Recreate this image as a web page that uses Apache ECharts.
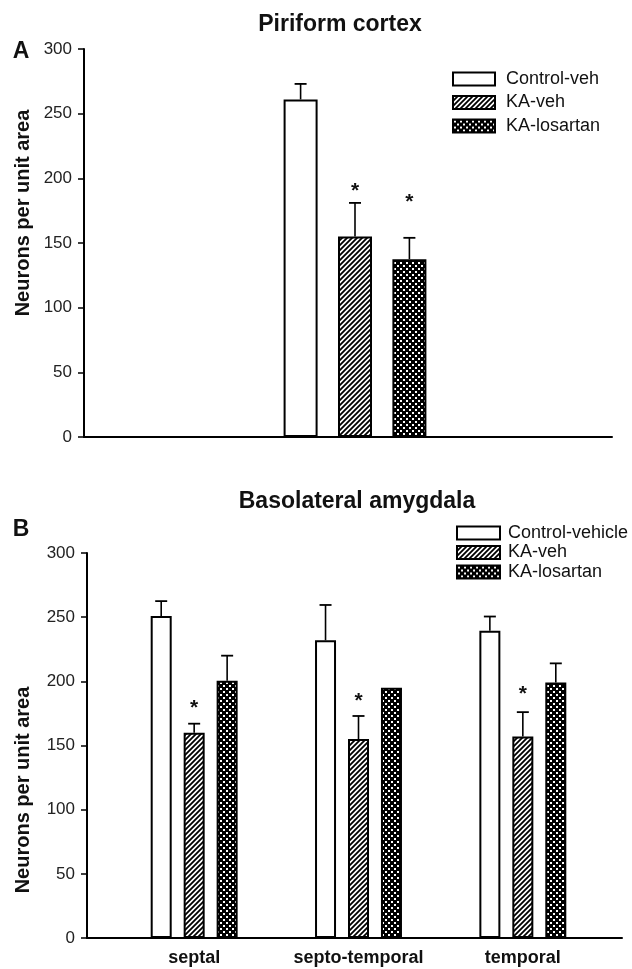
<!DOCTYPE html>
<html>
<head>
<meta charset="utf-8">
<script src="https://cdn.jsdelivr.net/npm/echarts@6/dist/echarts.min.js"></script>
<style>
  html, body { margin: 0; padding: 0; background: #fff; }
  #chart { width: 632px; height: 969px; }
</style>
</head>
<body>
<div id="chart"></div>
<script>
// panel A - piriform cortex
var groupNamesA = ['Control-veh', 'KA-veh', 'KA-losartan'];
var meansA = [261, 155, 137.5];
var errorsA = [12, 26, 16.5];
var starsA = [null, 194, 185.5];

// panel B - basolateral amygdala
var categoriesB = ['septal', 'septo-temporal', 'temporal'];
var groupNamesB = ['Control-vehicle', 'KA-veh', 'KA-losartan'];
var controlB = [251, 232, 239.5];
var controlErrB = [11.5, 27.5, 11];
var kaVehB = [160, 155, 157];
var kaVehErrB = [7, 18, 19];
var kaLosB = [200.5, 195, 199];
var kaLosErrB = [19.5, 0, 15];
var starsB = [183, 188.6, 194];

var yTicks = [0, 50, 100, 150, 200, 250, 300];

var font = 'Liberation Sans, Arial, Helvetica, sans-serif';

var makeHatch = function() {
  var c = document.createElement('canvas');
  c.width = 5; c.height = 5;
  var g = c.getContext('2d');
  g.fillStyle = '#fff';
  g.fillRect(0, 0, 5, 5);
  g.strokeStyle = '#000';
  g.lineWidth = 1.8;
  g.beginPath();
  g.moveTo(-1, 6); g.lineTo(6, -1);
  g.moveTo(-1, 1); g.lineTo(1, -1);
  g.moveTo(4, 6); g.lineTo(6, 4);
  g.stroke();
  return c;
};

var makeDots = function() {
  var c = document.createElement('canvas');
  c.width = 6; c.height = 6;
  var g = c.getContext('2d');
  g.fillStyle = '#000';
  g.fillRect(0, 0, 6, 6);
  g.fillStyle = '#fff';
  g.fillRect(1, 1, 2, 2);
  g.fillRect(4, 4, 2, 2);
  return c;
};

var fills = [
  '#fff',
  { image: makeHatch(), repeat: 'repeat' },
  { image: makeDots(), repeat: 'repeat' }
];

var barStyle = function(i) {
  return { color: fills[i], borderColor: '#000', borderWidth: 2 };
};

// error bars + asterisks, drawn at each bar's pixel offset
var errorRender = function(step) {
  return function(params, api) {
    var cat = api.value(0);
    var slot = api.value(1);
    var mean = api.value(2);
    var err = api.value(3);
    var star = api.value(4);
    var dx = (slot - 1) * step;
    var base = api.coord([cat, mean]);
    var top = api.coord([cat, mean + err]);
    var x = base[0] + dx;
    var kids = [];
    if (err > 0) {
      kids.push({ type: 'line', shape: { x1: x, y1: base[1], x2: x, y2: top[1] }, style: { stroke: '#000', lineWidth: 1.6 } });
      kids.push({ type: 'line', shape: { x1: x - 6, y1: top[1], x2: x + 6, y2: top[1] }, style: { stroke: '#000', lineWidth: 1.8 } });
    }
    if (!isNaN(star) && star > 0) {
      var sp = api.coord([cat, star]);
      kids.push({ type: 'text', style: { text: '*', x: x, y: sp[1] + 5, align: 'center', verticalAlign: 'middle', font: 'bold 21px ' + font, fill: '#111' } });
    }
    return { type: 'group', children: kids };
  };
};

var errDataA = [];
for (var i = 0; i < 3; i++) {
  errDataA.push([0, i, meansA[i], errorsA[i], starsA[i] == null ? '-' : starsA[i]]);
}
var errDataB = [];
var meansB = [controlB, kaVehB, kaLosB];
var errsB = [controlErrB, kaVehErrB, kaLosErrB];
for (var c = 0; c < 3; c++) {
  for (var s = 0; s < 3; s++) {
    errDataB.push([c, s, meansB[s][c], errsB[s][c], s == 1 ? starsB[c] : '-']);
  }
}

var yAxisShown = function(grid) {
  return {
    type: 'value', gridIndex: grid, min: 0, max: 300, interval: 50,
    axisLine: { show: true, lineStyle: { color: '#000', width: 2 } },
    axisTick: { show: true, length: 6, lineStyle: { color: '#000', width: 1.5 } },
    axisLabel: { margin: 12, color: '#222', fontSize: 17, fontFamily: font,
      formatter: function(v) { return yTicks.indexOf(v) >= 0 ? String(v) : ''; } },
    splitLine: { show: false }
  };
};
var yAxisHidden = function(grid) {
  return { type: 'value', gridIndex: grid, min: 0, max: 300, interval: 50, show: false, splitLine: { show: false } };
};
var frameX = function(grid) {
  return {
    type: 'value', gridIndex: grid, min: 0, max: 1,
    axisLine: { show: true, onZero: false, lineStyle: { color: '#000', width: 2 } },
    axisTick: { show: false }, axisLabel: { show: false }, splitLine: { show: false }
  };
};

var chart = echarts.init(document.getElementById('chart'));

var chartSettings = {
  backgroundColor: '#fff',
  animation: false,
  grid: [
    { left: 84, top: 49, width: 528, height: 388 },   // frame A
    { left: 84, top: 49, width: 542, height: 388 },   // bars A
    { left: 87, top: 553, width: 535, height: 385 },  // frame B
    { left: 112, top: 553, width: 493, height: 385 }  // bars B
  ],
  xAxis: [
    frameX(0),
    { type: 'category', gridIndex: 1, data: [''], show: false },
    frameX(2),
    { type: 'category', gridIndex: 3, data: categoriesB,
      axisLine: { show: false }, axisTick: { show: false },
      axisLabel: { interval: 0, margin: 11, color: '#111', fontSize: 18, fontWeight: 'bold', fontFamily: font } }
  ],
  yAxis: [yAxisShown(0), yAxisHidden(1), yAxisShown(2), yAxisHidden(3)],
  legend: [
    { data: groupNamesA, orient: 'vertical', left: 452, top: 70, padding: 0, icon: 'rect',
      itemWidth: 42, itemHeight: 13, itemGap: 5.5,
      textStyle: { fontSize: 18, lineHeight: 18, color: '#111', fontFamily: font, padding: [0, 0, 0, 6] } },
    { data: groupNamesB, orient: 'vertical', left: 456, top: 524, padding: 0, icon: 'rect',
      itemWidth: 43, itemHeight: 13, itemGap: 1.5,
      textStyle: { fontSize: 18, lineHeight: 18, color: '#111', fontFamily: font, padding: [0, 0, 0, 3] } }
  ],
  graphic: [
    { type: 'text', x: 340, y: 25, style: { text: 'Piriform cortex', align: 'center', verticalAlign: 'middle', font: 'bold 23px ' + font, fill: '#111' } },
    { type: 'text', x: 357, y: 502, style: { text: 'Basolateral amygdala', align: 'center', verticalAlign: 'middle', font: 'bold 23px ' + font, fill: '#111' } },
    { type: 'text', x: 21, y: 52, style: { text: 'A', align: 'center', verticalAlign: 'middle', font: 'bold 23px ' + font, fill: '#111' } },
    { type: 'text', x: 21, y: 530, style: { text: 'B', align: 'center', verticalAlign: 'middle', font: 'bold 23px ' + font, fill: '#111' } },
    { type: 'text', x: 23, y: 213, rotation: Math.PI / 2, style: { text: 'Neurons per unit area', align: 'center', verticalAlign: 'middle', font: 'bold 20px ' + font, fill: '#111' } },
    { type: 'text', x: 23, y: 790, rotation: Math.PI / 2, style: { text: 'Neurons per unit area', align: 'center', verticalAlign: 'middle', font: 'bold 20px ' + font, fill: '#111' } }
  ],
  series: [
    { name: groupNamesA[0], type: 'bar', xAxisIndex: 1, yAxisIndex: 1, data: [meansA[0]], barWidth: 34, barGap: '60%', itemStyle: barStyle(0) },
    { name: groupNamesA[1], type: 'bar', xAxisIndex: 1, yAxisIndex: 1, data: [meansA[1]], barWidth: 34, barGap: '60%', itemStyle: barStyle(1) },
    { name: groupNamesA[2], type: 'bar', xAxisIndex: 1, yAxisIndex: 1, data: [meansA[2]], barWidth: 34, barGap: '60%', itemStyle: barStyle(2) },
    { name: 'errA', type: 'custom', xAxisIndex: 1, yAxisIndex: 1, data: errDataA, renderItem: errorRender(34 * 1.6), clip: false, z: 5 },
    { name: groupNamesB[0], type: 'bar', xAxisIndex: 3, yAxisIndex: 3, data: controlB, barWidth: 21, barGap: '57%', itemStyle: barStyle(0) },
    { name: groupNamesB[1], type: 'bar', xAxisIndex: 3, yAxisIndex: 3, data: kaVehB, barWidth: 21, barGap: '57%', itemStyle: barStyle(1) },
    { name: groupNamesB[2], type: 'bar', xAxisIndex: 3, yAxisIndex: 3, data: kaLosB, barWidth: 21, barGap: '57%', itemStyle: barStyle(2) },
    { name: 'errB', type: 'custom', xAxisIndex: 3, yAxisIndex: 3, data: errDataB, renderItem: errorRender(21 * 1.57), clip: false, z: 5 }
  ]
};

chart.setOption(chartSettings);
</script>
</body>
</html>
